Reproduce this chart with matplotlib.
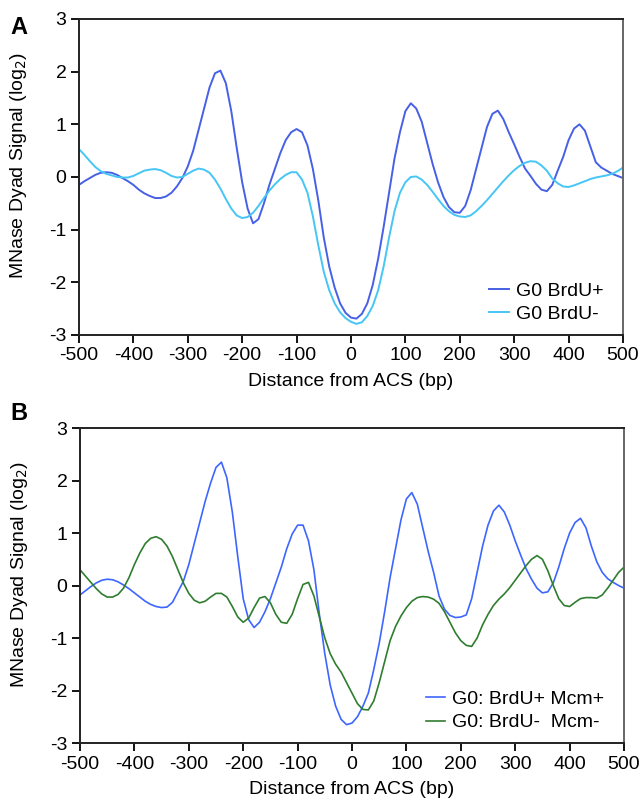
import numpy as np
import matplotlib
matplotlib.use("Agg")
import matplotlib.pyplot as plt

plt.rcParams['font.family'] = ['Liberation Sans', 'DejaVu Sans']
plt.rcParams['axes.unicode_minus'] = False

# distance from ACS (bp), every 10 bp
dist = list(range(-500, 501, 10))

# panel A
g0_brdu_plus = [
    -0.15, -0.08, -0.02, 0.04, 0.08, 0.09, 0.08, 0.04, -0.02, -0.08,
    -0.15, -0.24, -0.31, -0.36, -0.40, -0.40, -0.37, -0.30, -0.18, -0.02,
    0.20, 0.50, 0.90, 1.30, 1.70, 1.97, 2.02, 1.78, 1.25, 0.55,
    -0.10, -0.60, -0.88, -0.80, -0.50, -0.15, 0.15, 0.45, 0.70, 0.85,
    0.91, 0.85, 0.60, 0.15, -0.45, -1.15, -1.70, -2.10, -2.40, -2.58,
    -2.67, -2.69, -2.60, -2.40, -2.05, -1.55, -0.95, -0.30, 0.35, 0.85,
    1.25, 1.40, 1.30, 1.05, 0.65, 0.25, -0.10, -0.38, -0.57, -0.67,
    -0.68, -0.55, -0.25, 0.15, 0.55, 0.95, 1.20, 1.26, 1.10, 0.85,
    0.62, 0.38, 0.16, 0.02, -0.13, -0.24, -0.27, -0.15, 0.12, 0.38,
    0.70, 0.92, 1.00, 0.88, 0.58, 0.28, 0.18, 0.12, 0.06, 0.02,
    -0.02]
g0_brdu_minus = [
    0.53, 0.42, 0.30, 0.19, 0.11, 0.06, 0.03, 0.00, -0.01, -0.01,
    0.02, 0.07, 0.12, 0.14, 0.15, 0.13, 0.08, 0.02, -0.01, 0.00,
    0.06, 0.12, 0.16, 0.14, 0.08, -0.05, -0.22, -0.42, -0.60, -0.73,
    -0.78, -0.76, -0.68, -0.55, -0.40, -0.26, -0.14, -0.04, 0.04, 0.09,
    0.09, -0.05, -0.30, -0.75, -1.30, -1.80, -2.15, -2.40, -2.57, -2.68,
    -2.75, -2.79, -2.76, -2.64, -2.45, -2.15, -1.70, -1.15, -0.65, -0.30,
    -0.10, 0.00, 0.01, -0.05, -0.15, -0.28, -0.42, -0.55, -0.65, -0.72,
    -0.75, -0.76, -0.73, -0.65, -0.55, -0.44, -0.32, -0.20, -0.08, 0.03,
    0.13, 0.21, 0.27, 0.30, 0.29, 0.22, 0.12, -0.03, -0.12, -0.18,
    -0.19, -0.16, -0.12, -0.08, -0.04, -0.01, 0.01, 0.03, 0.06, 0.11,
    0.18]

# panel B
brdu_plus_mcm_plus = [
    -0.18, -0.10, -0.02, 0.05, 0.10, 0.12, 0.11, 0.07, 0.01, -0.06,
    -0.14, -0.22, -0.30, -0.36, -0.40, -0.42, -0.41, -0.32, -0.12, 0.08,
    0.40, 0.80, 1.20, 1.60, 1.95, 2.25, 2.35, 2.05, 1.40, 0.55,
    -0.25, -0.65, -0.80, -0.70, -0.50, -0.25, 0.05, 0.35, 0.70, 0.98,
    1.15, 1.15, 0.85, 0.30, -0.55, -1.30, -1.90, -2.30, -2.55, -2.65,
    -2.62, -2.50, -2.30, -2.05, -1.60, -1.10, -0.50, 0.15, 0.70, 1.25,
    1.65, 1.77, 1.55, 1.10, 0.65, 0.25, -0.20, -0.45, -0.57, -0.61,
    -0.60, -0.56, -0.25, 0.25, 0.75, 1.15, 1.42, 1.53, 1.40, 1.15,
    0.85, 0.58, 0.32, 0.12, -0.05, -0.14, -0.12, 0.05, 0.35, 0.70,
    1.00, 1.20, 1.28, 1.10, 0.75, 0.45, 0.25, 0.13, 0.06, 0.00,
    -0.05]
brdu_minus_mcm_minus = [
    0.30, 0.18, 0.06, -0.06, -0.16, -0.22, -0.22, -0.17, -0.05, 0.15,
    0.40, 0.62, 0.80, 0.90, 0.93, 0.88, 0.75, 0.55, 0.30, 0.05,
    -0.15, -0.28, -0.33, -0.30, -0.22, -0.15, -0.15, -0.22, -0.40, -0.60,
    -0.70, -0.62, -0.42, -0.24, -0.21, -0.33, -0.55, -0.70, -0.72, -0.55,
    -0.25, 0.02, 0.06, -0.20, -0.60, -1.00, -1.30, -1.50, -1.65, -1.85,
    -2.05, -2.25, -2.36, -2.37, -2.20, -1.85, -1.45, -1.05, -0.78, -0.58,
    -0.42, -0.30, -0.23, -0.21, -0.22, -0.26, -0.34, -0.50, -0.70, -0.90,
    -1.05, -1.14, -1.16, -1.00, -0.75, -0.55, -0.38, -0.26, -0.16, -0.04,
    0.10, 0.24, 0.38, 0.50, 0.57, 0.50, 0.28, 0.00, -0.25, -0.38,
    -0.40, -0.32, -0.25, -0.23, -0.23, -0.24, -0.18, -0.05, 0.10, 0.25,
    0.35]

fig = plt.figure(figsize=(6.41, 8.05), dpi=100)
ax1 = fig.add_axes([0.1232, 0.5839, 0.8487, 0.3925])
ax2 = fig.add_axes([0.1248, 0.0770, 0.8487, 0.3913])

ax1.plot(dist, g0_brdu_plus, color='#4660e6', lw=1.4, solid_joinstyle='round',
         label='G0 BrdU+')
ax1.plot(dist, g0_brdu_minus, color='#45c6f5', lw=1.4, solid_joinstyle='round',
         label='G0 BrdU-')
ax2.plot(dist, brdu_plus_mcm_plus, color='#3d66ff', lw=1.2, solid_joinstyle='round',
         label='G0: BrdU+ Mcm+')
ax2.plot(dist, brdu_minus_mcm_minus, color='#2f7d2f', lw=1.2, solid_joinstyle='round',
         label='G0: BrdU-  Mcm-')

for ax in (ax1, ax2):
    ax.set_xlim(-500, 500)
    ax.set_ylim(-3, 3)
    ax.set_xticks(range(-500, 501, 100))
    ax.set_yticks(range(-3, 4))
    ax.tick_params(direction='out', length=6, width=1.3, labelsize=14,
                   top=False, right=False, pad=3)
    for s in ('left', 'bottom', 'top'):
        ax.spines[s].set_linewidth(1.4)
        ax.spines[s].set_color('#222222')
    ax.spines['right'].set_linewidth(1.4)
    ax.spines['right'].set_color('#666666')
    ax.set_xlabel('Distance from ACS (bp)', fontsize=14, labelpad=6)
    ax.set_ylabel('MNase Dyad Signal (log$_2$)', fontsize=14)
    ax.yaxis.set_label_coords(-0.092, 0.535)
    ax.legend(loc='lower right', bbox_to_anchor=(0.985, 0.0), frameon=False,
              fontsize=14, handlelength=1.0, handletextpad=0.35,
              labelspacing=0.3, borderaxespad=0.2)

fig.text(0.016, 0.958, 'A', fontsize=17, fontweight='bold')
fig.text(0.016, 0.478, 'B', fontsize=17, fontweight='bold')

fig.savefig('out.png', dpi=100)
